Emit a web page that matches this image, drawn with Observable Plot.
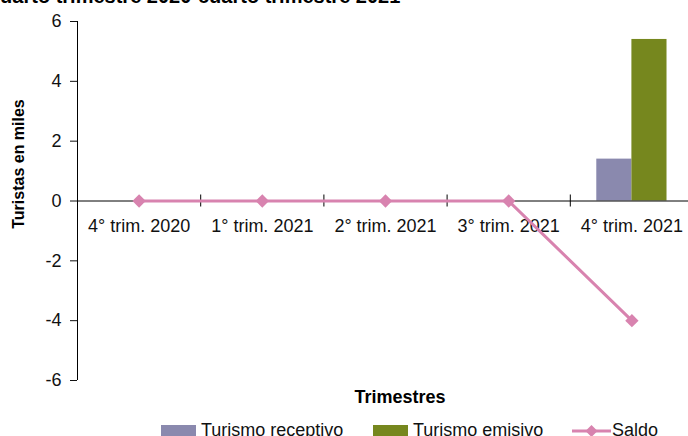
<!DOCTYPE html>
<html>
<head>
<meta charset="utf-8">
<script src="https://cdn.jsdelivr.net/npm/d3@7"></script>
<script src="https://cdn.jsdelivr.net/npm/@observablehq/plot@0.6"></script>
<style>
  html, body { margin: 0; padding: 0; background: #fff; overflow: hidden; }
  body { width: 688px; height: 436px; position: relative; font-family: "Liberation Sans", Arial, sans-serif; color: #111; }
  #title { position: absolute; left: -11px; top: -15px; font-weight: bold; font-size: 20px; white-space: nowrap; color: #000; }
  #chart { position: absolute; left: 0; top: 0; }
  #legend { position: absolute; left: 0; top: 420px; width: 688px; height: 30px; font-size: 18px; color: #111; }
  .item { position: absolute; top: 0; display: flex; align-items: center; white-space: nowrap; }
  .sw { display: inline-block; width: 35px; height: 11px; margin-right: 5px; }
</style>
</head>
<body>
<div id="title">cuarto trimestre 2020-cuarto trimestre 2021</div>
<div id="chart"></div>
<div id="legend"></div>
<script>
const categories = ["4° trim. 2020", "1° trim. 2021", "2° trim. 2021", "3° trim. 2021", "4° trim. 2021"];
const receptivo = [0, 0, 0, 0, 1.4];
const emisivo = [0, 0, 0, 0, 5.4];
const saldo = [0, 0, 0, 0, -4];
const yTicks = [-6, -4, -2, 0, 2, 4, 6];
const seriesNames = ["Turismo receptivo", "Turismo emisivo", "Saldo"];
const colors = ["#8a89ae", "#76871e", "#d883af"];

const idx = categories.map((c, i) => i);
const half = 0.285;
const barsR = idx.map(i => ({x1: i - half, x2: i, y: receptivo[i]}));
const barsE = idx.map(i => ({x1: i, x2: i + half, y: emisivo[i]}));
const line = idx.map(i => ({x: i, y: saldo[i]}));
const bounds = idx.slice(1).map(i => i - 0.5);

const plot = Plot.plot({
  width: 688,
  height: 410,
  marginTop: 21,
  marginBottom: 30,
  marginLeft: 77,
  marginRight: 0,
  style: {fontFamily: '"Liberation Sans", Arial, sans-serif', fontSize: "18px", color: "#111", background: "transparent"},
  x: {domain: [-0.5, categories.length - 0.5], range: [77, 693], axis: null},
  y: {domain: [-6, 6], ticks: yTicks, label: null},
  marks: [
    Plot.rectY(barsR.filter(d => d.y !== 0), {x1: "x1", x2: "x2", y: "y", fill: colors[0]}),
    Plot.rectY(barsE.filter(d => d.y !== 0), {x1: "x1", x2: "x2", y: "y", fill: colors[1]}),
    Plot.ruleY([0], {stroke: "#000", strokeWidth: 1}),
    Plot.ruleX([-0.5], {y1: -6, y2: 6, stroke: "#000", strokeWidth: 1}),
    Plot.ruleX(bounds, {y1: 0, y2: 0, insetTop: -6, insetBottom: -6, stroke: "#000"}),
    Plot.axisY({ticks: yTicks, tickSize: 7, tickPadding: 9, fontSize: 18, label: null, tickFormat: d => `${d}`}),
    Plot.text(idx, {x: i => i, y: 0, text: i => categories[i], dy: 25, fontSize: 18, fill: "#111"}),
    Plot.line(line, {x: "x", y: "y", stroke: colors[2], strokeWidth: 3}),
    Plot.dot(line, {x: "x", y: "y", symbol: "diamond2", r: 6, fill: colors[2], stroke: "none"}),
    Plot.text(["Trimestres"], {frameAnchor: "bottom", textAnchor: "middle", dx: 17, dy: 22, fontSize: 18, fontWeight: "bold", fill: "#000"}),
    Plot.text(["Turistas en miles"], {frameAnchor: "left", textAnchor: "middle", rotate: -90, dx: -59, dy: -37, fontSize: 16, fontWeight: "bold", fill: "#000"})
  ]
});
document.getElementById("chart").appendChild(plot);

const legend = document.getElementById("legend");
const lefts = [161, 373, 572];
seriesNames.forEach((name, i) => {
  const item = document.createElement("div");
  item.className = "item";
  item.style.left = lefts[i] + "px";
  if (i < 2) {
    const sw = document.createElement("span");
    sw.className = "sw";
    sw.style.background = colors[i];
    item.appendChild(sw);
  } else {
    const svg = d3.create("svg").attr("width", 40).attr("height", 20).style("margin-right", "0px");
    svg.append("line").attr("x1", 0).attr("x2", 39).attr("y1", 10).attr("y2", 10).attr("stroke", colors[2]).attr("stroke-width", 3);
    svg.append("path").attr("d", "M19.5,4 L25.5,10 L19.5,16 L13.5,10 Z").attr("fill", colors[2]);
    item.appendChild(svg.node());
  }
  const t = document.createElement("span");
  t.textContent = name;
  item.appendChild(t);
  legend.appendChild(item);
});
</script>
</body>
</html>
